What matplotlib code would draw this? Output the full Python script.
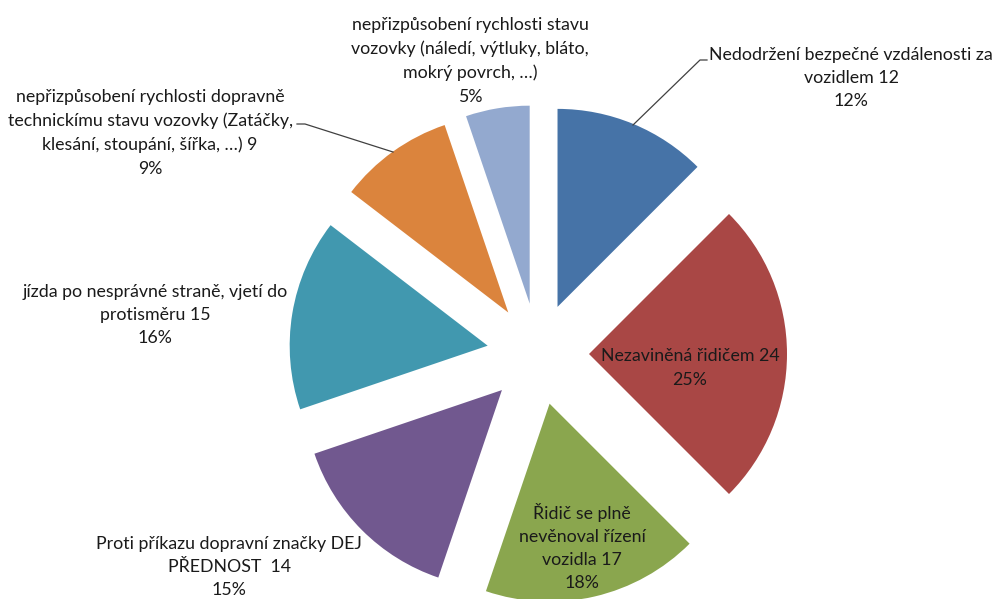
import matplotlib
matplotlib.use("Agg")
import matplotlib.pyplot as plt

# ---- data ----
categories = [
    "Nedodržení bezpečné vzdálenosti za\nvozidlem",
    "Nezaviněná řidičem",
    "Řidič se plně\nnevěnoval řízení\nvozidla",
    "Proti příkazu dopravní značky DEJ\nPŘEDNOST ",
    "jízda po nesprávné straně, vjetí do\nprotisměru",
    "nepřizpůsobení rychlosti dopravně\ntechnickímu stavu vozovky (Zatáčky,\nklesání, stoupání, šířka, …)",
    "nepřizpůsobení rychlosti stavu\nvozovky (náledí, výtluky, bláto,\nmokrý povrch, …)",
]
values = [12, 24, 17, 14, 15, 9, 5]
percents = [12, 25, 18, 15, 16, 9, 5]
show_value = [True, True, True, True, True, True, False]
colors = ["#4673A7", "#A94745", "#8AA64E", "#71588F", "#4198AF", "#DB843D", "#93A9CF"]

W, H = 994, 599
fig = plt.figure(figsize=(W / 100, H / 100), dpi=100)
ax = fig.add_axes([0, 0, 1, 1])

cx, cy_px, R, off = 538, 354, 198, 51
ax.pie(values, colors=colors, startangle=90, counterclock=False,
       radius=R, center=(cx, H - cy_px), explode=[off] * len(values),
       wedgeprops=dict(linewidth=0), frame=True)
ax.set_xlim(0, W)
ax.set_ylim(0, H)
ax.set_aspect("equal")
ax.axis("off")

# label positions (pixel coords, centre of text block)
label_pos = [(851, 78), (690, 368), (582, 547), (229, 567), (155, 315), (150, 133), (470, 61)]
fam = ["Lato", "DejaVu Sans"]
for i, (cat, v, p) in enumerate(zip(categories, values, percents)):
    txt = f"{cat} {v}\n{p}%" if show_value[i] else f"{cat}\n{p}%"
    x, y = label_pos[i]
    ax.text(x, H - y, txt, ha="center", va="center", fontsize=12.8,
            family=fam, color="#1a1a1a", linespacing=1.55)

# leader lines
def leader(pts):
    ax.plot([p[0] for p in pts], [H - p[1] for p in pts], color="#404040", lw=0.9)

leader([(633, 125), (700, 60), (707, 60)])
leader([(393, 152), (305, 124), (297, 124)])

fig.savefig("out.png", dpi=100)
